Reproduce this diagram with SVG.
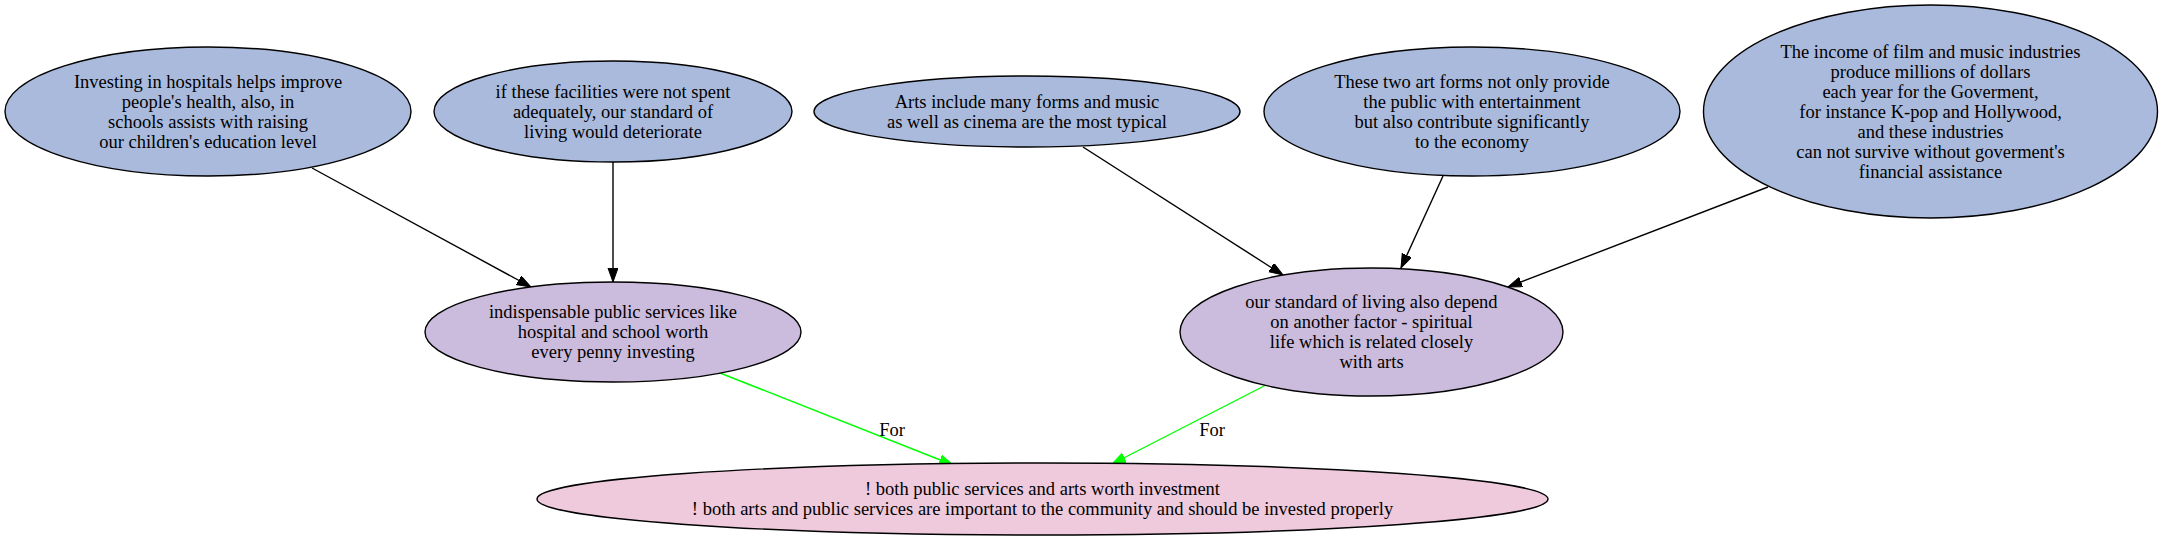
<svg xmlns="http://www.w3.org/2000/svg" width="2162" height="541" viewBox="0 0 2162 541">
<style>
  text { font-family: "Liberation Serif", "Times New Roman", serif; font-size: 18.5px; fill: #000; text-anchor: middle; }
  .n { stroke: #000; stroke-width: 1.4; }
  .top { fill: #aabadd; }
  .mid { fill: #cbbbdc; }
  .bot { fill: #eecadc; }
  .e { stroke: #000; stroke-width: 1.4; fill: none; }
  .g { stroke: #00ff00; stroke-width: 1.4; fill: none; }
</style>
<defs>
  <marker id="ab" markerUnits="userSpaceOnUse" markerWidth="16" markerHeight="12" refX="14" refY="5" orient="auto">
    <path d="M0,0 L14,5 L0,10 z" fill="#000" stroke="#000" stroke-width="1"/>
  </marker>
  <marker id="ag" markerUnits="userSpaceOnUse" markerWidth="16" markerHeight="12" refX="14" refY="5" orient="auto">
    <path d="M0,0 L14,5 L0,10 z" fill="#00ff00" stroke="#00ff00" stroke-width="1"/>
  </marker>
</defs>
<rect width="2162" height="541" fill="#fff"/>
<g id="edges">
  <line class="e" x1="312" y1="168" x2="531" y2="287" marker-end="url(#ab)"/>
  <line class="e" x1="613" y1="162" x2="613" y2="282" marker-end="url(#ab)"/>
  <line class="e" x1="1083" y1="147" x2="1283" y2="275" marker-end="url(#ab)"/>
  <line class="e" x1="1443" y1="176" x2="1401" y2="268" marker-end="url(#ab)"/>
  <line class="e" x1="1768" y1="187" x2="1508" y2="287" marker-end="url(#ab)"/>
  <line class="g" x1="720" y1="373" x2="953" y2="465" marker-end="url(#ag)"/>
  <line class="g" x1="1266" y1="385" x2="1112" y2="464" marker-end="url(#ag)"/>
  <text x="892" y="436">For</text>
  <text x="1212" y="436">For</text>
</g>
<g id="nodeA">
  <ellipse class="n top" cx="208" cy="111.5" rx="203" ry="64.5"/>
  <text x="208" y="87.5">Investing in hospitals helps improve</text>
  <text x="208" y="107.5">people's health, also, in</text>
  <text x="208" y="127.5">schools assists with raising</text>
  <text x="208" y="147.5">our children's education level</text>
</g>
<g id="nodeB">
  <ellipse class="n top" cx="613" cy="111.5" rx="179" ry="50.5"/>
  <text x="613" y="97.5">if these facilities were not spent</text>
  <text x="613" y="117.5">adequately, our standard of</text>
  <text x="613" y="137.5">living would deteriorate</text>
</g>
<g id="nodeC">
  <ellipse class="n top" cx="1027" cy="111.5" rx="213" ry="35.5"/>
  <text x="1027" y="107.5">Arts include many forms and music</text>
  <text x="1027" y="127.5">as well as cinema are the most typical</text>
</g>
<g id="nodeD">
  <ellipse class="n top" cx="1472" cy="111.5" rx="208" ry="64.5"/>
  <text x="1472" y="87.5">These two art forms not only provide</text>
  <text x="1472" y="107.5">the public with entertainment</text>
  <text x="1472" y="127.5">but also contribute significantly</text>
  <text x="1472" y="147.5">to the economy</text>
</g>
<g id="nodeE">
  <ellipse class="n top" cx="1930.5" cy="111.5" rx="227" ry="106.5"/>
  <text x="1930.5" y="57.5">The income of film and music industries</text>
  <text x="1930.5" y="77.5">produce millions of dollars</text>
  <text x="1930.5" y="97.5">each year for the Goverment,</text>
  <text x="1930.5" y="117.5">for instance K-pop and Hollywood,</text>
  <text x="1930.5" y="137.5">and these industries</text>
  <text x="1930.5" y="157.5">can not survive without goverment's</text>
  <text x="1930.5" y="177.5">financial assistance</text>
</g>
<g id="nodeF">
  <ellipse class="n mid" cx="613" cy="332" rx="188" ry="50"/>
  <text x="613" y="318">indispensable public services like</text>
  <text x="613" y="338">hospital and school worth</text>
  <text x="613" y="358">every penny investing</text>
</g>
<g id="nodeG">
  <ellipse class="n mid" cx="1371.5" cy="332" rx="191.5" ry="64"/>
  <text x="1371.5" y="308">our standard of living also depend</text>
  <text x="1371.5" y="328">on another factor - spiritual</text>
  <text x="1371.5" y="348">life which is related closely</text>
  <text x="1371.5" y="368">with arts</text>
</g>
<g id="nodeH">
  <ellipse class="n bot" cx="1042.5" cy="499" rx="505.5" ry="36"/>
  <text x="1042.5" y="495">! both public services and arts worth investment</text>
  <text x="1042.5" y="515">! both arts and public services are important to the community and should be invested properly</text>
</g>
</svg>
